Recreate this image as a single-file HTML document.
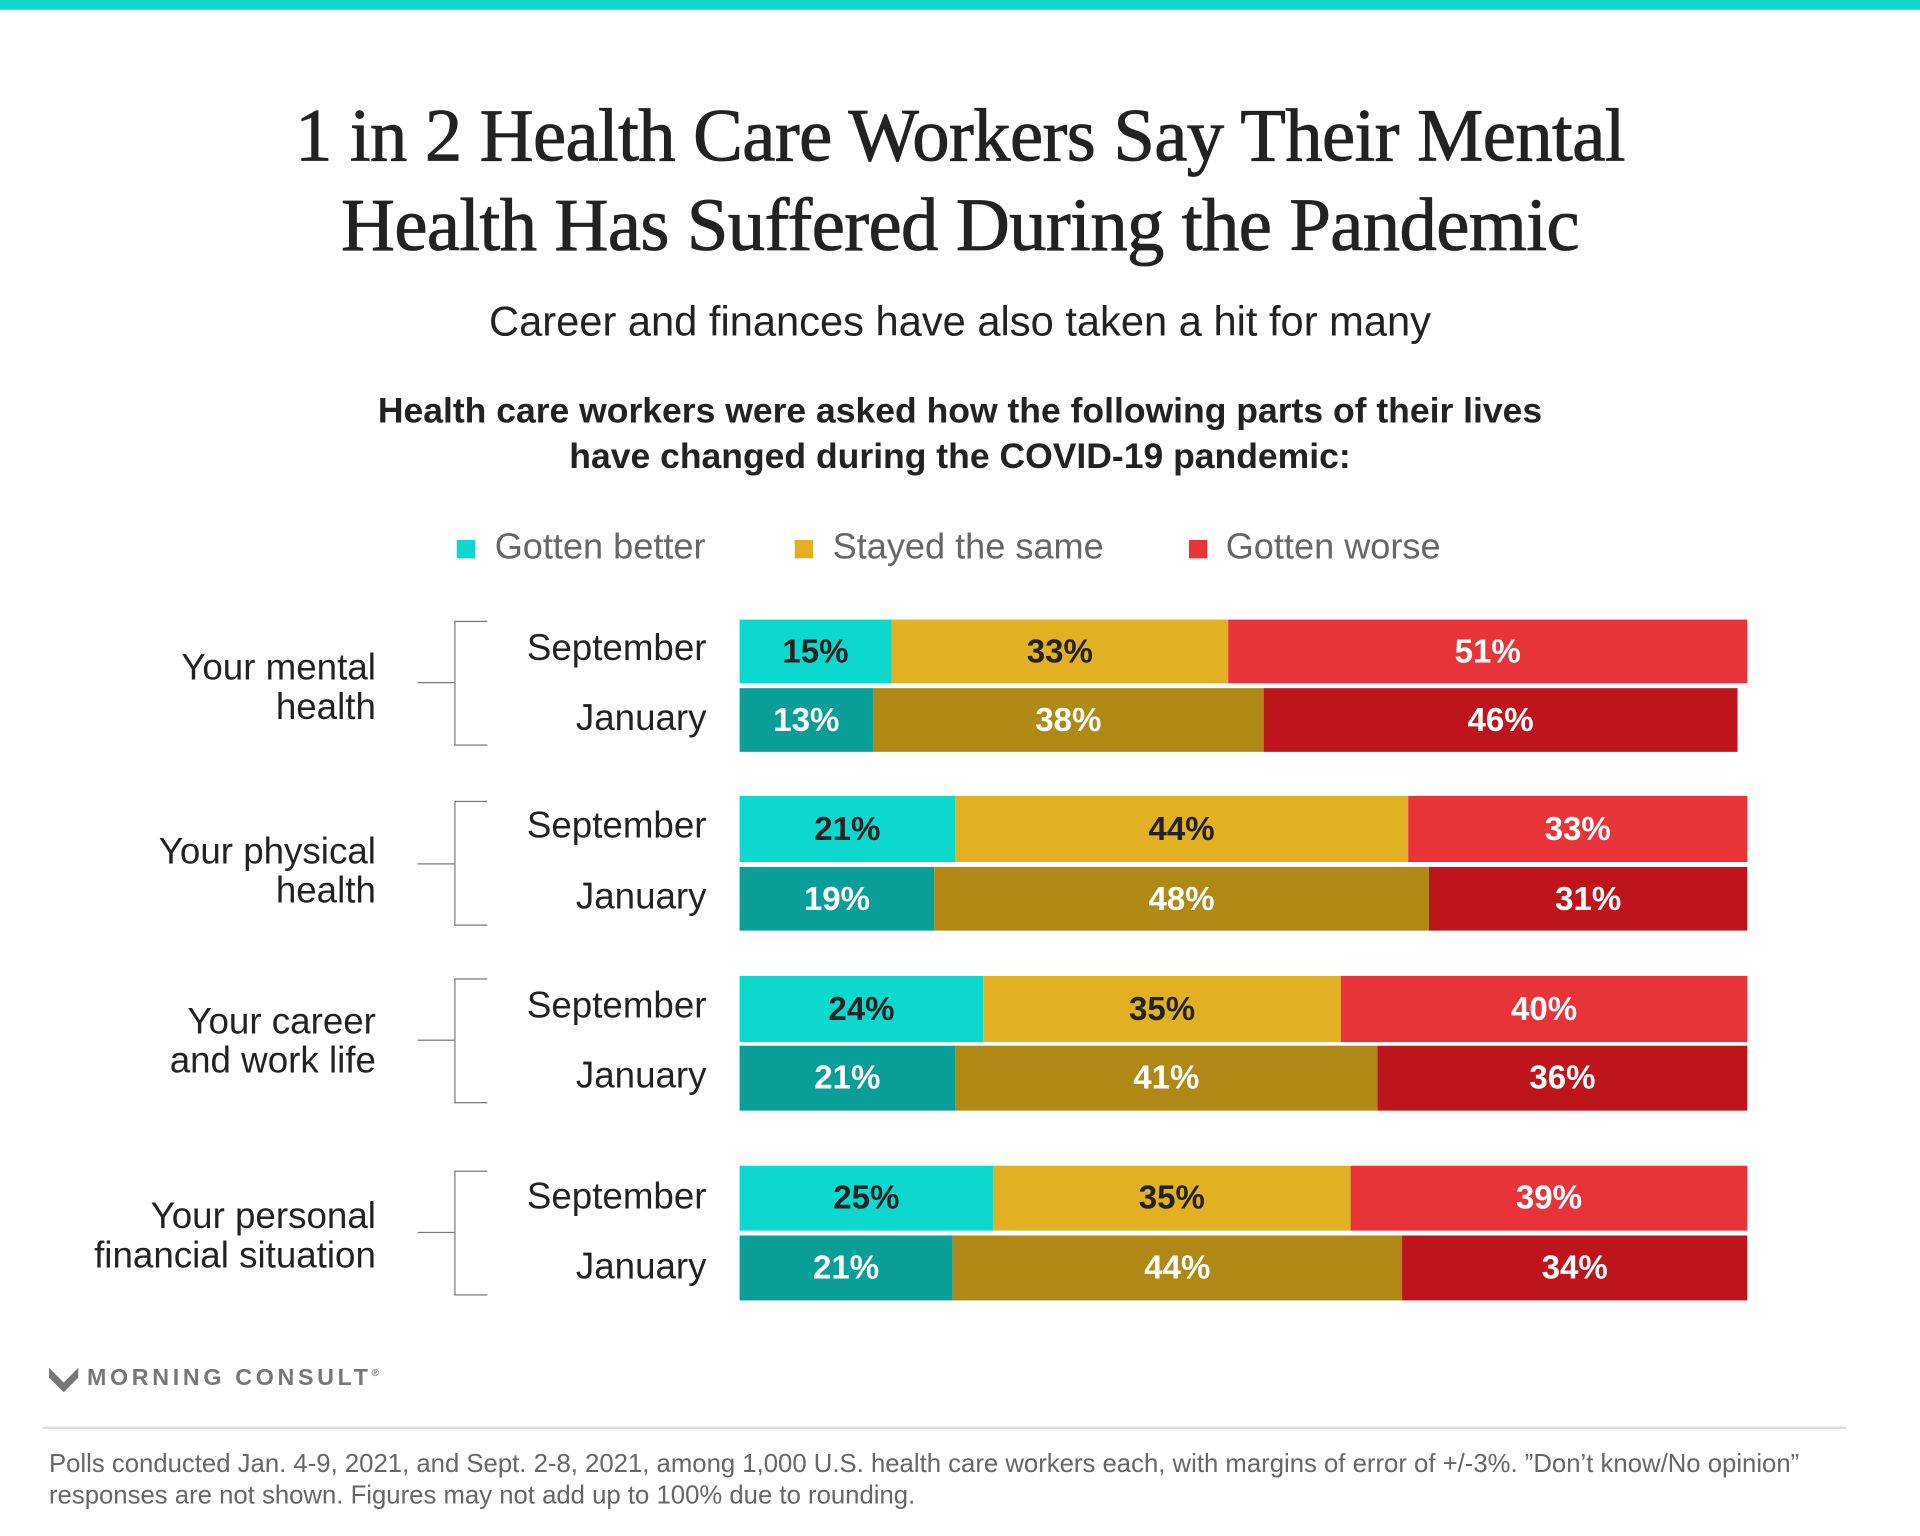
<!DOCTYPE html>
<html><head><meta charset="utf-8"><style>
html,body{margin:0;padding:0;background:#fff;}
body{width:1920px;height:1536px;overflow:hidden;position:relative;}
#c{position:absolute;left:0;top:0;width:1568px;height:1254px;transform:scale(1.22449);transform-origin:0 0;font-family:"Liberation Sans",sans-serif;}
.a{position:absolute;white-space:nowrap;}
.t{font-family:"Liberation Serif",serif;font-size:61px;font-weight:normal;-webkit-text-stroke:0.7px #222;color:#222;left:0;width:1568px;text-align:center;letter-spacing:-0.5px;}
.bar{position:absolute;height:52px;display:flex;}
.bar div{height:100%;display:flex;align-items:center;justify-content:center;font-weight:bold;font-size:27px;}
.g{background:#0dd8cd;color:#222}.G{background:#0a9e99;color:#fff}
.y{background:#e1b123;color:#222}.Y{background:#b08816;color:#fff}
.r{background:#e83338;color:#fff}.R{background:#bd151b;color:#fff}
.lab{font-size:30px;color:#222;right:991px;text-align:right;}
.cat{font-size:30px;color:#222;right:1261px;text-align:right;line-height:32px;}
.ln{position:absolute;background:#777;}
</style></head><body><div id="c">
<div class="a" style="left:0;top:0;width:1568px;height:8px;background:#10d5cc"></div>
<div class="a t" style="top:77px">1 in 2 Health Care Workers Say Their Mental</div>
<div class="a t" style="top:150px">Health Has Suffered During the Pandemic</div>
<div class="a" style="top:244px;left:0;width:1568px;text-align:center;font-size:34px;color:#222">Career and finances have also taken a hit for many</div>
<div class="a" style="top:318px;left:0;width:1568px;text-align:center;font-size:29px;font-weight:bold;color:#222;line-height:37px">Health care workers were asked how the following parts of their lives<br>have changed during the COVID-19 pandemic:</div>
<div class="a" style="left:373px;top:441px;width:15px;height:15px;background:#0dd8cd"></div>
<div class="a" style="left:404px;top:430px;font-size:29.5px;color:#666">Gotten better</div>
<div class="a" style="left:649px;top:441px;width:15px;height:15px;background:#e1b123"></div>
<div class="a" style="left:680px;top:430px;font-size:29.5px;color:#666">Stayed the same</div>
<div class="a" style="left:971px;top:441px;width:15px;height:15px;background:#e83338"></div>
<div class="a" style="left:1001px;top:430px;font-size:29.5px;color:#666">Gotten worse</div>

<div class="a cat" style="top:530px">Your mental<br>health</div>
<div class="ln" style="left:371px;top:507px;width:1px;height:102px"></div>
<div class="ln" style="left:371px;top:507px;width:27px;height:1px"></div>
<div class="ln" style="left:371px;top:608px;width:27px;height:1px"></div>
<div class="ln" style="left:341px;top:557px;width:30px;height:1px"></div>
<div class="a lab" style="top:513px">September</div>
<div class="a lab" style="top:570px">January</div>
<div class="bar" style="left:604px;top:506px"><div class="g" style="width:124px">15%</div><div class="y" style="width:275px">33%</div><div class="r" style="width:424px">51%</div></div>
<div class="bar" style="left:604px;top:562px"><div class="G" style="width:109px">13%</div><div class="Y" style="width:319px">38%</div><div class="R" style="width:387px">46%</div></div>

<div class="a cat" style="top:680px">Your physical<br>health</div>
<div class="ln" style="left:371px;top:654px;width:1px;height:102px"></div>
<div class="ln" style="left:371px;top:654px;width:27px;height:1px"></div>
<div class="ln" style="left:371px;top:755px;width:27px;height:1px"></div>
<div class="ln" style="left:341px;top:705px;width:30px;height:1px"></div>
<div class="a lab" style="top:658px">September</div>
<div class="a lab" style="top:716px">January</div>
<div class="bar" style="left:604px;top:650px;height:54px"><div class="g" style="width:176px">21%</div><div class="y" style="width:370px">44%</div><div class="r" style="width:277px">33%</div></div>
<div class="bar" style="left:604px;top:708px"><div class="G" style="width:159px">19%</div><div class="Y" style="width:404px">48%</div><div class="R" style="width:260px">31%</div></div>

<div class="a cat" style="top:819px">Your career<br>and work life</div>
<div class="ln" style="left:371px;top:799px;width:1px;height:102px"></div>
<div class="ln" style="left:371px;top:799px;width:27px;height:1px"></div>
<div class="ln" style="left:371px;top:900px;width:27px;height:1px"></div>
<div class="ln" style="left:341px;top:849px;width:30px;height:1px"></div>
<div class="a lab" style="top:805px">September</div>
<div class="a lab" style="top:862px">January</div>
<div class="bar" style="left:604px;top:797px;height:54px"><div class="g" style="width:199px">24%</div><div class="y" style="width:292px">35%</div><div class="r" style="width:332px">40%</div></div>
<div class="bar" style="left:604px;top:854px;height:53px"><div class="G" style="width:176px">21%</div><div class="Y" style="width:345px">41%</div><div class="R" style="width:302px">36%</div></div>

<div class="a cat" style="top:978px">Your personal<br>financial situation</div>
<div class="ln" style="left:371px;top:956px;width:1px;height:102px"></div>
<div class="ln" style="left:371px;top:956px;width:27px;height:1px"></div>
<div class="ln" style="left:371px;top:1057px;width:27px;height:1px"></div>
<div class="ln" style="left:341px;top:1006px;width:30px;height:1px"></div>
<div class="a lab" style="top:961px">September</div>
<div class="a lab" style="top:1018px">January</div>
<div class="bar" style="left:604px;top:952px;height:53px"><div class="g" style="width:207px">25%</div><div class="y" style="width:292px">35%</div><div class="r" style="width:324px">39%</div></div>
<div class="bar" style="left:604px;top:1009px;height:53px"><div class="G" style="width:174px">21%</div><div class="Y" style="width:367px">44%</div><div class="R" style="width:282px">34%</div></div>

<svg class="a" style="left:40px;top:1117px" width="24" height="20" viewBox="0 0 24 20"><path d="M0 0 L12 12 L24 0 L24 8 L12 20 L0 8Z" fill="#777"/></svg>
<div class="a" style="left:71px;top:1115px;font-size:19px;font-weight:bold;color:#777;letter-spacing:3px">MORNING CONSULT<sup style="font-size:8px">®</sup></div>
<div class="a" style="left:35px;top:1165px;width:1473px;height:2px;background:#ddd"></div>
<div class="a" style="left:40px;top:1183px;font-size:21px;color:#666;line-height:26px">Polls conducted Jan. 4-9, 2021, and Sept. 2-8, 2021, among 1,000 U.S. health care workers each, with margins of error of +/-3%. ”Don’t know/No opinion”<br>responses are not shown. Figures may not add up to 100% due to rounding.</div>
</div></body></html>
